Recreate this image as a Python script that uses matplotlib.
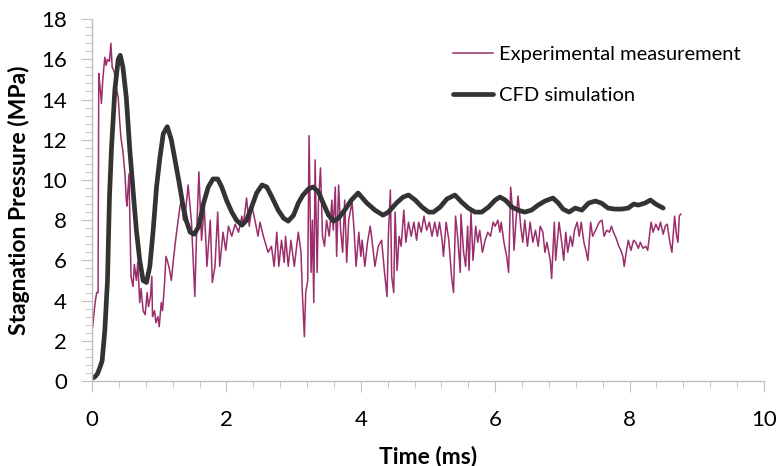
import matplotlib
matplotlib.use("Agg")
import matplotlib.pyplot as plt
from matplotlib.ticker import MultipleLocator

plt.rcParams['font.family'] = ['Lato', 'DejaVu Sans']

exp_t = [0.01, 0.03, 0.05, 0.07, 0.09, 0.10, 0.12, 0.14, 0.16, 0.19, 0.21, 0.23, 0.26, 0.28, 0.30,
         0.33, 0.36, 0.39, 0.41, 0.43, 0.46, 0.49, 0.51, 0.52, 0.55, 0.57, 0.58, 0.61, 0.63, 0.66,
         0.68, 0.71, 0.73, 0.76, 0.79, 0.82, 0.84, 0.87, 0.89, 0.90, 0.93, 0.95, 0.98, 1.00, 1.03,
         1.05, 1.08, 1.10, 1.12, 1.15, 1.18, 1.21, 1.24, 1.27, 1.31, 1.33, 1.36, 1.38, 1.43, 1.48,
         1.53, 1.55, 1.59, 1.63, 1.67, 1.71, 1.76, 1.79, 1.83, 1.87, 1.90, 1.95, 1.99, 2.03, 2.08,
         2.13, 2.18, 2.23, 2.25, 2.30, 2.34, 2.38, 2.43, 2.47, 2.50, 2.55, 2.62, 2.67, 2.71, 2.75,
         2.78, 2.82, 2.86, 2.88, 2.92, 2.96, 3.01, 3.07, 3.11, 3.13, 3.16, 3.18, 3.21, 3.23, 3.26,
         3.28, 3.30, 3.32, 3.35, 3.37, 3.40, 3.43, 3.46, 3.49, 3.53, 3.57, 3.59, 3.62, 3.64, 3.67,
         3.70, 3.73, 3.76, 3.79, 3.82, 3.87, 3.90, 3.93, 3.97, 4.00, 4.02, 4.06, 4.10, 4.14, 4.17,
         4.21, 4.26, 4.31, 4.35, 4.39, 4.41, 4.44, 4.46, 4.49, 4.51, 4.54, 4.57, 4.60, 4.64, 4.67,
         4.71, 4.75, 4.79, 4.83, 4.86, 4.90, 4.94, 4.98, 5.02, 5.06, 5.10, 5.14, 5.17, 5.21, 5.23,
         5.27, 5.31, 5.35, 5.38, 5.41, 5.44, 5.48, 5.49, 5.53, 5.56, 5.59, 5.61, 5.64, 5.67, 5.71,
         5.74, 5.77, 5.81, 5.85, 5.89, 5.93, 5.97, 6.00, 6.04, 6.07, 6.09, 6.13, 6.17, 6.20, 6.23,
         6.26, 6.28, 6.31, 6.34, 6.38, 6.41, 6.44, 6.48, 6.52, 6.56, 6.60, 6.64, 6.67, 6.71, 6.74,
         6.77, 6.82, 6.84, 6.88, 6.90, 6.95, 6.99, 7.02, 7.05, 7.08, 7.12, 7.15, 7.18, 7.22, 7.25,
         7.28, 7.32, 7.35, 7.38, 7.42, 7.45, 7.48, 7.52, 7.55, 7.59, 7.62, 7.66, 7.70, 7.73, 7.76,
         7.80, 7.84, 7.87, 7.90, 7.92, 7.95, 7.98, 8.02, 8.06, 8.09, 8.13, 8.16, 8.20, 8.24, 8.27,
         8.32, 8.35, 8.39, 8.43, 8.46, 8.50, 8.53, 8.56, 8.60, 8.63, 8.67, 8.70, 8.72, 8.74, 8.76]
exp_p = [2.7, 3.4, 4.0, 4.4, 4.4, 15.3, 14.6, 13.8, 15.0, 16.1, 15.7, 16.0, 15.9, 16.8, 15.6,
         15.4, 14.6, 14.1, 13.0, 12.1, 11.4, 10.3, 9.0, 8.7, 10.3, 7.0, 5.2, 4.7, 5.8, 5.0,
         5.9, 3.9, 4.6, 3.5, 3.3, 4.4, 3.7, 4.2, 5.2, 3.2, 3.5, 2.9, 3.2, 2.7, 3.9,
         3.5, 4.9, 6.2, 6.0, 5.6, 5.0, 6.0, 6.9, 7.7, 8.7, 9.0, 8.0, 8.0, 9.75, 7.9,
         4.2, 6.7, 10.4, 7.0, 8.7, 5.7, 8.0, 4.9, 5.7, 8.4, 5.7, 7.4, 6.5, 7.7, 7.2,
         7.8, 7.4, 8.2, 7.7, 9.1, 7.7, 8.7, 7.9, 7.2, 7.9, 7.2, 6.4, 6.7, 5.7, 7.4,
         5.7, 7.0, 5.9, 7.2, 5.7, 7.0, 5.7, 7.4, 6.4, 4.4, 2.2, 4.4, 5.0, 12.2, 5.4,
         8.0, 3.9, 11.0, 5.4, 8.9, 10.6, 7.2, 6.7, 8.0, 7.2, 9.0, 7.5, 9.65, 6.2, 9.75,
         7.5, 6.4, 9.0, 5.9, 8.0, 8.9, 7.5, 5.7, 7.4, 6.2, 7.0, 5.7, 6.9, 7.7, 6.9,
         5.7, 6.7, 7.0, 5.5, 4.2, 7.2, 9.5, 5.2, 4.4, 8.4, 5.5, 7.2, 6.7, 8.5, 6.9,
         7.9, 7.2, 7.9, 7.0, 7.9, 7.4, 8.2, 7.5, 7.9, 7.2, 7.9, 7.2, 7.9, 7.0, 6.2,
         7.9, 7.0, 5.2, 4.4, 8.2, 7.2, 5.4, 8.3, 6.4, 5.7, 7.7, 5.5, 8.4, 6.0, 7.7,
         6.9, 7.5, 6.4, 7.0, 7.4, 7.2, 7.9, 7.7, 8.0, 7.4, 7.9, 6.9, 6.2, 5.4, 9.65,
         8.4, 6.5, 8.0, 9.2, 7.7, 6.9, 8.0, 6.7, 7.9, 6.9, 7.5, 6.7, 7.7, 7.4, 6.4,
         6.9, 6.0, 5.1, 7.9, 6.0, 7.9, 6.9, 6.0, 7.4, 6.4, 7.2, 6.7, 7.5, 7.9, 7.2,
         7.9, 6.9, 6.5, 6.0, 7.9, 7.2, 7.4, 7.7, 7.9, 8.0, 7.2, 7.5, 7.4, 7.7, 7.4,
         7.1, 6.7, 6.5, 6.2, 5.7, 6.4, 7.0, 6.5, 7.0, 6.9, 6.6, 6.9, 6.6, 6.7, 6.5,
         7.9, 7.4, 7.8, 7.5, 7.9, 7.3, 7.7, 7.8, 6.9, 6.4, 8.2, 7.2, 6.9, 8.2, 8.3]

# CFD simulation
cfd_t = [0.01, 0.04, 0.08, 0.12, 0.15, 0.19, 0.23, 0.26, 0.29, 0.34, 0.39, 0.42, 0.46, 0.51,
         0.56, 0.61, 0.66, 0.71, 0.76, 0.81, 0.86, 0.91, 0.96, 1.01, 1.06, 1.12, 1.18, 1.24,
         1.30, 1.35, 1.40, 1.46, 1.52, 1.59, 1.66, 1.73, 1.80, 1.87, 1.93, 2.00, 2.08, 2.15,
         2.23, 2.30, 2.38, 2.45, 2.53, 2.60, 2.67, 2.77, 2.85, 2.92, 3.00, 3.07, 3.14, 3.22,
         3.29, 3.37, 3.44, 3.52, 3.59, 3.67, 3.76, 3.86, 3.96, 4.09, 4.21, 4.33, 4.41, 4.53,
         4.63, 4.71, 4.81, 4.91, 5.01, 5.08, 5.18, 5.28, 5.40, 5.50, 5.60, 5.70, 5.80, 5.90,
         6.00, 6.07, 6.15, 6.25, 6.34, 6.44, 6.54, 6.64, 6.74, 6.86, 6.94, 7.01, 7.10, 7.19,
         7.29, 7.39, 7.49, 7.58, 7.68, 7.78, 7.88, 7.98, 8.06, 8.13, 8.23, 8.31, 8.39, 8.50]
cfd_p = [0.15, 0.2, 0.35, 0.7, 1.0, 2.5, 5.0, 9.2, 11.6, 14.5, 16.0, 16.2, 15.6, 14.1,
         11.6, 9.5, 7.5, 6.0, 5.0, 4.9, 5.7, 7.5, 9.65, 11.1, 12.3, 12.65, 12.0, 10.9,
         9.8, 8.8, 8.0, 7.4, 7.3, 7.7, 8.85, 9.65, 10.05, 10.05, 9.65, 9.0, 8.4, 8.0,
         7.75, 8.0, 8.7, 9.35, 9.75, 9.65, 9.2, 8.5, 8.1, 7.95, 8.25, 8.85, 9.25, 9.55,
         9.65, 9.4, 8.85, 8.25, 7.95, 8.1, 8.5, 9.0, 9.35, 8.85, 8.5, 8.25, 8.4, 8.85,
         9.15, 9.25, 9.0, 8.65, 8.4, 8.4, 8.65, 9.05, 9.25, 8.9, 8.6, 8.4, 8.4, 8.65,
         9.0, 9.15, 9.0, 8.65, 8.5, 8.4, 8.5, 8.75, 8.95, 9.1, 8.85, 8.55, 8.4, 8.6,
         8.5, 8.85, 8.95, 8.85, 8.6, 8.55, 8.55, 8.6, 8.8, 8.75, 8.85, 9.0, 8.8, 8.6]

fig = plt.figure(figsize=(7.76, 4.66), dpi=100)
ax = fig.add_axes([0.1186, 0.1824, 0.8659, 0.7766])

ax.plot(exp_t, exp_p, color='#9B2D6B', linewidth=1.1, label='Experimental measurement')
ax.plot(cfd_t, cfd_p, color='#333333', linewidth=3.4, solid_capstyle='round',
        label='CFD simulation')

ax.set_xlim(0, 10)
ax.set_ylim(0, 18)
ax.xaxis.set_major_locator(MultipleLocator(2))
ax.xaxis.set_minor_locator(MultipleLocator(0.4))
ax.yaxis.set_major_locator(MultipleLocator(2))
ax.yaxis.set_minor_locator(MultipleLocator(0.4))

for s in ['top', 'right']:
    ax.spines[s].set_visible(False)
for s in ['left', 'bottom']:
    ax.spines[s].set_color('#BFBFBF')
    ax.spines[s].set_linewidth(1.0)

ax.tick_params(which='major', length=8, color='#BFBFBF', labelsize=16)
ax.tick_params(which='minor', length=5, color='#BFBFBF')
ax.tick_params(axis='x', which='major', pad=13)
ax.tick_params(axis='y', which='major', pad=10)

ax.set_xlabel('Time (ms)', fontsize=16.5, fontweight='bold', labelpad=11)
ax.set_ylabel('Stagnation Pressure (MPa)', fontsize=16.5, fontweight='bold', labelpad=8)

ax.legend(loc='upper left', bbox_to_anchor=(0.51, 0.975), frameon=False, fontsize=14.5,
          handlelength=2.0, handletextpad=0.3, labelspacing=1.15)

fig.savefig('out.png', dpi=100)
